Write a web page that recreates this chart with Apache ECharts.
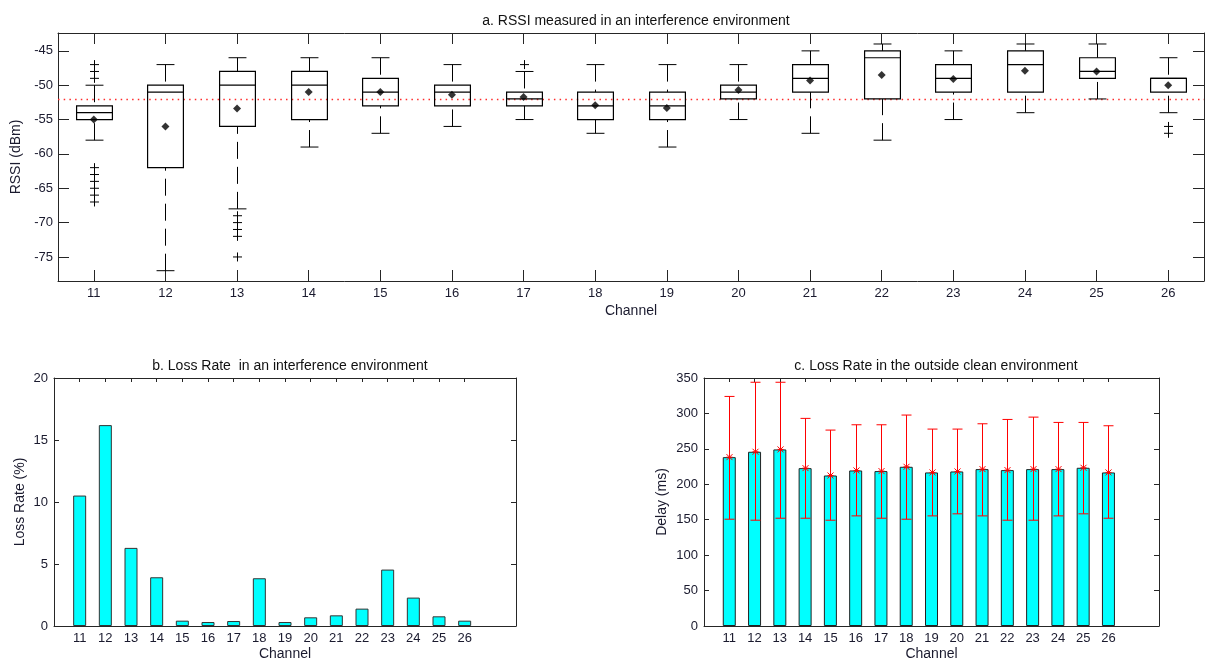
<!DOCTYPE html>
<html>
<head>
<meta charset="utf-8">
<script src="https://cdn.jsdelivr.net/npm/echarts@6/dist/echarts.min.js"></script>
<style>html,body{margin:0;padding:0;background:#fff}#c{width:1207px;height:662px}</style>
</head>
<body>
<div id="c"></div>
<script>
// ---- data ----
const channels = [11,12,13,14,15,16,17,18,19,20,21,22,23,24,25,26];
// (a) RSSI box plot statistics (dBm)
const rssiWhiskerHigh = [-50,-47,-46,-46,-46,-47,-48,-47,-47,-47,-45,-44,-45,-44,-44,-46];
const rssiQ3          = [-53,-50,-48,-48,-49,-50,-51,-51,-51,-50,-47,-45,-47,-45,-46,-49];
const rssiMedian      = [-54,-51,-50,-50,-51,-51,-52,-53,-53,-51,-49,-46,-49,-47,-48,-49];
const rssiQ1          = [-55,-62,-56,-55,-53,-53,-53,-55,-55,-52,-51,-52,-51,-51,-49,-51];
const rssiWhiskerLow  = [-58,-77,-68,-59,-57,-56,-55,-57,-59,-55,-57,-58,-55,-54,-52,-54];
const rssiMean        = [-55,-56,-53.4,-51,-51,-51.4,-51.7,-52.9,-53.3,-50.7,-49.3,-48.5,-49.1,-47.9,-48,-50];
const rssiOutliers = [
  [-47,-48,-49,-62,-63,-64,-65,-66,-67], [], [-69,-70,-71,-72,-75], [], [], [], [-47], [], [], [], [], [], [], [], [], [-56,-57]
];
const rssiReference = -52;
const rssiTicks = [-75,-70,-65,-60,-55,-50,-45];
// (b) loss rate (%)
const lossRate = [10.52,16.2,6.3,3.93,0.43,0.32,0.4,3.85,0.32,0.7,0.86,1.4,4.55,2.29,0.78,0.43];
// (c) delay (ms)
const delayMean  = [238.3,245.9,249.2,222.8,212.4,219.5,218.6,224.7,216.7,218.1,221.4,220,221.4,221.4,223.3,216.7];
const delayHigh  = [324,344,344,293,276.5,284,284,297.7,277.9,277.9,285.4,291.5,294.8,287.3,287.3,282.6];
const delayLow   = [150.7,149.3,152.1,152.1,149.3,155.4,152.1,150.7,155.4,158.3,155.4,149.3,149.3,155.4,158.3,152.1];

// ---- styling helpers ----
const FONT = "'Liberation Sans', Arial, sans-serif";
const TXT = '#1a1a2e';
const AX = '#262626';
const chLabels = channels.map(String);
// padded category list for bottom charts (axis spans 10..28)
const padCats = [''].concat(chLabels, ['', '']);

function boxItem(params, api) {
  const x = api.value(0);
  const band = api.size([1, 0])[0];
  const bw = band * 0.5, cw = band * 0.25;
  const px = Math.round(api.coord([x, api.value(1)])[0]) + 0.5;
  const yLow = api.coord([x, api.value(1)])[1];
  const yQ1 = api.coord([x, api.value(2)])[1];
  const yMed = api.coord([x, api.value(3)])[1];
  const yQ3 = api.coord([x, api.value(4)])[1];
  const yHigh = api.coord([x, api.value(5)])[1];
  const s = {stroke: '#000', lineWidth: 1, fill: null};
  const d = {stroke: '#000', lineWidth: 1, lineDash: [17, 8], fill: null};
  return {type: 'group', children: [
    {type: 'line', shape: {x1: px, y1: yHigh, x2: px, y2: yQ3}, style: d},
    {type: 'line', shape: {x1: px, y1: yLow, x2: px, y2: yQ1}, style: d},
    {type: 'line', shape: {x1: px - cw/2, y1: yHigh, x2: px + cw/2, y2: yHigh}, style: s},
    {type: 'line', shape: {x1: px - cw/2, y1: yLow, x2: px + cw/2, y2: yLow}, style: s},
    {type: 'rect', shape: {x: px - bw/2, y: yQ3, width: bw, height: yQ1 - yQ3}, style: {stroke: '#000', lineWidth: 1.2, fill: 'rgba(0,0,0,0)'}},
    {type: 'line', shape: {x1: px - bw/2, y1: yMed, x2: px + bw/2, y2: yMed}, style: {stroke: '#000', lineWidth: 1.2}}
  ]};
}

function plusItem(params, api) {
  const p = api.coord([api.value(0), api.value(1)]);
  const x = Math.round(p[0]) + 0.5;
  const h = 4.5;
  const s = {stroke: '#000', lineWidth: 1};
  return {type: 'group', children: [
    {type: 'line', shape: {x1: x-h, y1: p[1], x2: x+h, y2: p[1]}, style: s},
    {type: 'line', shape: {x1: x, y1: p[1]-h, x2: x, y2: p[1]+h}, style: s}
  ]};
}

function refLineItem(params, api) {
  const y = Math.round(api.coord([0, api.value(1)])[1]) + 0.5;
  const cs = params.coordSys;
  return {type: 'line', shape: {x1: cs.x, y1: y, x2: cs.x + cs.width, y2: y},
    style: {stroke: '#ff2a2a', lineWidth: 1.3, lineDash: [1.5, 4.2]}};
}

function errItem(params, api) {
  const x = api.value(0);
  const pl = api.coord([x, api.value(1)]);
  const ph = api.coord([x, api.value(2)]);
  const pm = api.coord([x, api.value(3)]);
  const cx = Math.round(pl[0]) + 0.5;
  const cw = 5, m = 3;
  const s = {stroke: '#ff0000', lineWidth: 1};
  return {type: 'group', children: [
    {type: 'line', shape: {x1: cx, y1: pl[1], x2: cx, y2: ph[1]}, style: s},
    {type: 'line', shape: {x1: cx-cw, y1: pl[1], x2: cx+cw, y2: pl[1]}, style: s},
    {type: 'line', shape: {x1: cx-cw, y1: ph[1], x2: cx+cw, y2: ph[1]}, style: s},
    {type: 'line', shape: {x1: cx-m, y1: pm[1]-m, x2: cx+m, y2: pm[1]+m}, style: s},
    {type: 'line', shape: {x1: cx-m, y1: pm[1]+m, x2: cx+m, y2: pm[1]-m}, style: s},
    {type: 'line', shape: {x1: cx-m, y1: pm[1], x2: cx+m, y2: pm[1]}, style: s}
  ]};
}

const boxData = channels.map((c, i) => [i, rssiWhiskerLow[i], rssiQ1[i], rssiMedian[i], rssiQ3[i], rssiWhiskerHigh[i]]);
const outlierData = [];
rssiOutliers.forEach((arr, i) => arr.forEach(v => outlierData.push([i, v])));
const meanData = channels.map((c, i) => [i, rssiMean[i]]);
const lossData = channels.map((c, i) => [i + 1, lossRate[i]]);
const delayData = channels.map((c, i) => [i + 1, delayMean[i]]);
const errData = channels.map((c, i) => [i + 1, delayLow[i], delayHigh[i], delayMean[i]]);

const lbl = {color: TXT, fontFamily: FONT, fontSize: 13};
const nameLbl = {color: TXT, fontFamily: FONT, fontSize: 14};
const axLine = {show: true, onZero: false, lineStyle: {color: AX, width: 1}};
const tickKeep = (idx, val) => val !== '';

function catAxisBottom(grid, data, padded, tickLen, name, gap) {
  return {
    type: 'category', gridIndex: grid, position: 'bottom', data: data,
    boundaryGap: !padded,
    axisLine: axLine,
    axisTick: padded ? {show: true, inside: true, length: tickLen, interval: tickKeep, lineStyle: {color: AX}}
                     : {show: true, inside: true, length: tickLen, alignWithLabel: true, lineStyle: {color: AX}},
    axisLabel: Object.assign({margin: 6, interval: padded ? tickKeep : 0}, lbl),
    name: name, nameLocation: 'middle', nameGap: gap, nameTextStyle: nameLbl,
    splitLine: {show: false}
  };
}
function catAxisTop(grid, data, padded, tickLen) {
  return {
    type: 'category', gridIndex: grid, position: 'top', data: data,
    boundaryGap: !padded,
    axisLine: axLine,
    axisTick: padded ? {show: true, inside: true, length: tickLen, interval: tickKeep, lineStyle: {color: AX}}
                     : {show: true, inside: true, length: tickLen, alignWithLabel: true, lineStyle: {color: AX}},
    axisLabel: {show: false}, splitLine: {show: false}
  };
}

const titleStyle = {fontFamily: FONT, fontSize: 14, fontWeight: 'normal', color: '#111'};
const option = {
  animation: false,
  backgroundColor: '#fff',
  title: [
    {text: 'a. RSSI measured in an interference environment', left: 631, top: 9, textAlign: 'center', textStyle: titleStyle},
    {text: 'b. Loss Rate  in an interference environment', left: 285, top: 354, textAlign: 'center', textStyle: titleStyle},
    {text: 'c. Loss Rate in the outside clean environment', left: 931, top: 354, textAlign: 'center', textStyle: titleStyle}
  ],
  grid: [
    {left: 58, top: 33, width: 1146, height: 248},
    {left: 54, top: 378, width: 462, height: 248},
    {left: 704, top: 378, width: 455, height: 248}
  ],
  xAxis: [
    catAxisBottom(0, chLabels, false, 11, 'Channel', 23),
    catAxisTop(0, chLabels, false, 11),
    catAxisBottom(1, padCats, true, 4, 'Channel', 21),
    catAxisTop(1, padCats, true, 4),
    catAxisBottom(2, padCats, true, 4, 'Channel', 21),
    catAxisTop(2, padCats, true, 4)
  ],
  yAxis: [
    {type: 'value', gridIndex: 0, position: 'left', min: -78.5, max: -42.4,
     axisLine: axLine,
     axisTick: {show: true, inside: true, length: 11, customValues: rssiTicks, lineStyle: {color: AX}},
     axisLabel: Object.assign({margin: 5, customValues: rssiTicks}, lbl),
     splitLine: {show: false},
     name: 'RSSI (dBm)', nameLocation: 'middle', nameGap: 33, nameTextStyle: nameLbl},
    {type: 'value', gridIndex: 0, position: 'right', min: -78.5, max: -42.4,
     axisLine: axLine,
     axisTick: {show: true, inside: true, length: 11, customValues: rssiTicks, lineStyle: {color: AX}},
     axisLabel: {show: false}, splitLine: {show: false}},
    {type: 'value', gridIndex: 1, position: 'left', min: 0, max: 20, interval: 5,
     axisLine: axLine, axisTick: {show: true, inside: true, length: 5, lineStyle: {color: AX}},
     axisLabel: Object.assign({margin: 6}, lbl), splitLine: {show: false},
     name: 'Loss Rate (%)', nameLocation: 'middle', nameGap: 27, nameTextStyle: nameLbl},
    {type: 'value', gridIndex: 1, position: 'right', min: 0, max: 20, interval: 5,
     axisLine: axLine, axisTick: {show: true, inside: true, length: 5, lineStyle: {color: AX}},
     axisLabel: {show: false}, splitLine: {show: false}},
    {type: 'value', gridIndex: 2, position: 'left', min: 0, max: 350, interval: 50,
     axisLine: axLine, axisTick: {show: true, inside: true, length: 5, lineStyle: {color: AX}},
     axisLabel: Object.assign({margin: 6}, lbl), splitLine: {show: false},
     name: 'Delay (ms)', nameLocation: 'middle', nameGap: 35, nameTextStyle: nameLbl},
    {type: 'value', gridIndex: 2, position: 'right', min: 0, max: 350, interval: 50,
     axisLine: axLine, axisTick: {show: true, inside: true, length: 5, lineStyle: {color: AX}},
     axisLabel: {show: false}, splitLine: {show: false}}
  ],
  series: [
    {type: 'custom', xAxisIndex: 0, yAxisIndex: 0, renderItem: refLineItem, data: [[0, rssiReference]], z: 1, silent: true},
    {type: 'custom', xAxisIndex: 0, yAxisIndex: 0, renderItem: boxItem, data: boxData, z: 3},
    {type: 'custom', xAxisIndex: 0, yAxisIndex: 0, renderItem: plusItem, data: outlierData, z: 3},
    {type: 'scatter', xAxisIndex: 0, yAxisIndex: 0, symbol: 'diamond', symbolSize: 8,
     itemStyle: {color: '#000'}, data: meanData, z: 4},
    {type: 'bar', xAxisIndex: 2, yAxisIndex: 2, barWidth: 13, data: lossData,
     itemStyle: {color: '#00ffff', borderColor: '#333', borderWidth: 1}},
    {type: 'bar', xAxisIndex: 4, yAxisIndex: 4, barWidth: 13, data: delayData,
     itemStyle: {color: '#00ffff', borderColor: '#222', borderWidth: 1}},
    {type: 'custom', xAxisIndex: 4, yAxisIndex: 4, renderItem: errItem, data: errData, z: 5}
  ]
};
const chart = echarts.init(document.getElementById('c'), null, {renderer: 'canvas'});
chart.setOption(option);
</script>
</body>
</html>
